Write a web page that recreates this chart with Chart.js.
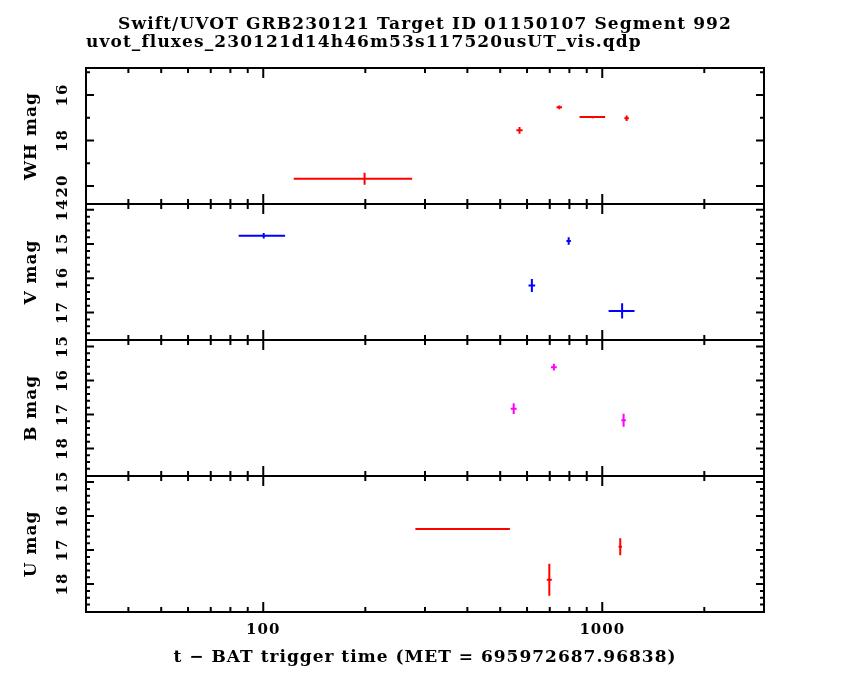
<!DOCTYPE html>
<html>
<head>
<meta charset="utf-8">
<title>Swift/UVOT GRB230121</title>
<script src="https://cdn.jsdelivr.net/npm/chart.js@4.4.1/dist/chart.umd.min.js"></script>
<style>
  html, body { margin: 0; background: #fff; }
  #wrap { position: relative; width: 850px; height: 680px; background: #fff; }
  #wrap canvas { position: absolute; left: 0; top: 0; }
</style>
</head>
<body>
<div id="wrap">
  <canvas id="pWH" width="850" height="680"></canvas>
  <canvas id="pV" width="850" height="680"></canvas>
  <canvas id="pB" width="850" height="680"></canvas>
  <canvas id="pU" width="850" height="680"></canvas>
</div>
<script>
// ---------------------- TEXTOS ----------------------
const titleText = "Swift/UVOT GRB230121 Target ID 01150107 Segment 992";
const fileText = "uvot_fluxes_230121d14h46m53s117520usUT_vis.qdp";
const xTitle = "t \u2212 BAT trigger time (MET = 695972687.96838)";

// ---------------------- EJE X (log) ----------------------
const xRange = [30, 3000];
const xLabelTicks = [100, 1000];
const xMinorTicks = [40, 50, 60, 70, 80, 90, 200, 300, 400, 500, 600, 700, 800, 900, 2000, 3000];

// ---------------------- WH ----------------------
const whStart = [123, 558, 733, 857, 1162];
const whStop = [275, 582, 761, 1020, 1198];
const whMag = [19.68, 17.55, 16.54, 16.97, 17.02];
const whErr = [0.26, 0.15, 0.08, 0.05, 0.12];
const whRange = [14.81, 20.79];
const whTicks = [16, 18, 20];
const whMinor = [15, 17, 19];

// ---------------------- V ----------------------
const vStart = [84.6, 606, 784, 1044];
const vStop = [116, 634, 808, 1245];
const vMag = [14.76, 16.21, 14.91, 16.95];
const vErr = [0.08, 0.19, 0.11, 0.22];
const vRange = [13.83, 17.8];
const vTicks = [14, 15, 16, 17];
const vMinor = [14.2, 14.4, 14.6, 14.8, 15.2, 15.4, 15.6, 15.8, 16.2, 16.4, 16.6, 16.8, 17.2, 17.4, 17.6];

// ---------------------- B ----------------------
const bStart = [537, 706, 1138];
const bStop = [559, 734, 1174];
const bMag = [16.83, 15.61, 17.17];
const bErr = [0.16, 0.10, 0.19];
const bRange = [14.81, 18.81];
const bTicks = [15, 16, 17, 18];
const bMinor = [15.2, 15.4, 15.6, 15.8, 16.2, 16.4, 16.6, 16.8, 17.2, 17.4, 17.6, 17.8, 18.2, 18.4, 18.6];

// ---------------------- U ----------------------
const uStart = [281, 686, 1117];
const uStop = [534, 710, 1143];
const uMag = [16.38, 17.87, 16.90];
const uErr = [0.03, 0.47, 0.25];
const uRange = [14.82, 18.82];
const uTicks = [15, 16, 17, 18];
const uMinor = [15.2, 15.4, 15.6, 15.8, 16.2, 16.4, 16.6, 16.8, 17.2, 17.4, 17.6, 17.8, 18.2, 18.4, 18.6];

const serif = "'DejaVu Serif', 'Liberation Serif', serif";

// ---- marco, ticks hacia dentro y barras de error ----
const qdpPlugin = {
  id: "qdp",
  beforeDraw(chart) {
    // el tipo Hershey de QDP es algo más ancho
    chart.ctx.letterSpacing = "1px";
  },
  afterDatasetsDraw(chart, args, opts) {
    const { ctx, chartArea: a, scales: { x, y } } = chart;

    // barras de error
    ctx.save();
    ctx.beginPath();
    ctx.rect(a.left, a.top, a.width, a.height);
    ctx.clip();
    chart.data.datasets.forEach((ds) => {
      ctx.strokeStyle = ds.borderColor;
      ctx.lineWidth = 2;
      ds.data.forEach((d) => {
        const px = x.getPixelForValue(d.x);
        const py = y.getPixelForValue(d.y);
        ctx.beginPath();
        ctx.moveTo(x.getPixelForValue(d.xLo), py);
        ctx.lineTo(x.getPixelForValue(d.xHi), py);
        ctx.moveTo(px, y.getPixelForValue(d.y - d.e));
        ctx.lineTo(px, y.getPixelForValue(d.y + d.e));
        ctx.stroke();
      });
    });
    ctx.restore();

    // ticks
    ctx.save();
    ctx.strokeStyle = "#000";
    ctx.lineWidth = 2;
    ctx.beginPath();
    const xt = (v, len) => {
      if (v < xRange[0] || v > xRange[1]) return;
      const px = x.getPixelForValue(v);
      ctx.moveTo(px, a.top); ctx.lineTo(px, a.top + len);
      ctx.moveTo(px, a.bottom); ctx.lineTo(px, a.bottom - len);
    };
    xLabelTicks.forEach((v) => xt(v, 10));
    xMinorTicks.forEach((v) => xt(v, 5));
    const lo = Math.min(y.min, y.max), hi = Math.max(y.min, y.max);
    const yt = (v, len) => {
      if (v < lo || v > hi) return;
      const py = y.getPixelForValue(v);
      ctx.moveTo(a.left, py); ctx.lineTo(a.left + len, py);
      ctx.moveTo(a.right, py); ctx.lineTo(a.right - len, py);
    };
    opts.major.forEach((v) => yt(v, 8));
    opts.minor.forEach((v) => yt(v, 4));
    ctx.stroke();
    ctx.strokeRect(a.left, a.top, a.width, a.height);
    ctx.restore();

    // encabezados (solo panel superior)
    if (opts.heading) {
      ctx.save();
      ctx.fillStyle = "#000";
      ctx.font = "bold 17px " + serif;
      ctx.letterSpacing = "1.1px";
      ctx.textAlign = "center";
      ctx.textBaseline = "alphabetic";
      ctx.fillText(titleText, 425, 29);
      ctx.textAlign = "left";
      ctx.fillText(fileText, 86, 47);
      ctx.restore();
    }
  },
};

function buildPoints(start, stop, mag, err) {
  return mag.map((m, i) => ({
    x: (start[i] + stop[i]) / 2,
    xLo: start[i],
    xHi: stop[i],
    y: m,
    e: err[i],
  }));
}

function makePanel(id, cfg) {
  const tickFont = { family: serif, size: 15, weight: "bold" };
  const titleFont = { family: serif, size: 17, weight: "bold" };
  return new Chart(document.getElementById(id), {
    type: "scatter",
    data: {
      datasets: [
        {
          label: cfg.name,
          data: buildPoints(cfg.start, cfg.stop, cfg.mag, cfg.err),
          borderColor: cfg.color,
          backgroundColor: cfg.color,
          pointRadius: 0,
          showLine: false,
        },
      ],
    },
    options: {
      responsive: false,
      animation: false,
      events: [],
      layout: {
        padding: { left: 0, right: 86, top: cfg.top, bottom: cfg.last ? 0 : 680 - cfg.bottom },
      },
      plugins: {
        legend: { display: false },
        tooltip: { enabled: false },
        qdp: { major: cfg.ticks, minor: cfg.minor, heading: !!cfg.heading },
      },
      scales: {
        x: {
          type: "logarithmic",
          display: !!cfg.last,
          min: xRange[0],
          max: xRange[1],
          afterBuildTicks: (s) => { s.ticks = xLabelTicks.map((v) => ({ value: v })); },
          afterFit: (s) => { if (cfg.last) s.height = 680 - cfg.bottom; },
          grid: { display: false, drawTicks: false },
          border: { display: false },
          ticks: {
            autoSkip: false,
            maxRotation: 0,
            padding: 9,
            color: "#000",
            font: tickFont,
            callback: (v) => String(v),
          },
          title: { display: true, text: xTitle, color: "#000", font: titleFont, padding: { top: 0, bottom: 12 } },
        },
        y: {
          reverse: true,
          min: cfg.range[0],
          max: cfg.range[1],
          afterBuildTicks: (s) => { s.ticks = cfg.ticks.map((v) => ({ value: v })); },
          afterFit: (s) => { s.width = 86; },
          grid: { display: false, drawTicks: false },
          border: { display: false },
          ticks: {
            autoSkip: false,
            minRotation: 90,
            maxRotation: 90,
            crossAlign: "center",
            padding: 12,
            color: "#000",
            font: tickFont,
            callback: (v) => String(v),
          },
          title: { display: true, text: cfg.name + " mag", color: "#000", font: titleFont, padding: { top: 21, bottom: 0 } },
        },
      },
    },
    plugins: [qdpPlugin],
  });
}

// ---------------------- PANELES ----------------------
makePanel("pWH", { name: "WH", color: "#ff0000", start: whStart, stop: whStop, mag: whMag, err: whErr,
  range: whRange, ticks: whTicks, minor: whMinor, top: 68, bottom: 204, heading: true });
makePanel("pV", { name: "V", color: "#0000ff", start: vStart, stop: vStop, mag: vMag, err: vErr,
  range: vRange, ticks: vTicks, minor: vMinor, top: 204, bottom: 340 });
makePanel("pB", { name: "B", color: "#ff00ff", start: bStart, stop: bStop, mag: bMag, err: bErr,
  range: bRange, ticks: bTicks, minor: bMinor, top: 340, bottom: 476 });
makePanel("pU", { name: "U", color: "#ff0000", start: uStart, stop: uStop, mag: uMag, err: uErr,
  range: uRange, ticks: uTicks, minor: uMinor, top: 476, bottom: 612, last: true });
</script>
</body>
</html>
